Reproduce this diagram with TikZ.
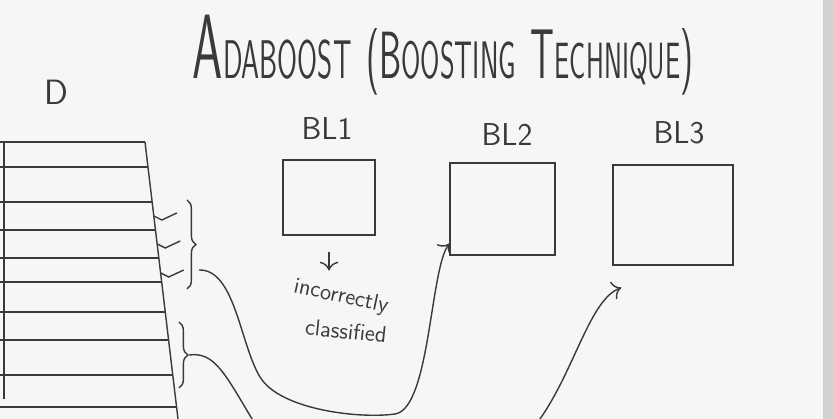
\documentclass[tikz,border=0pt]{standalone}
\usepackage{amsmath}
\usepackage{tikz}
\usetikzlibrary{decorations.pathreplacing, arrows.meta}

\definecolor{ink}{HTML}{3A3A3A}
\definecolor{board}{HTML}{F6F6F4}
\definecolor{rim}{HTML}{D2D2D0}

\begin{document}
\begin{tikzpicture}[
    thick,
    scale = 1,
    ink,
    >= {To[scale = 1.5]},
    learner/.style = {draw,
      minimum width = 2cm,
      minimum height = 1.8cm},
    hand/.style = {font = \sffamily},
    tag/.style = {font = \sffamily\fontsize{18}{18}\selectfont},
    note/.style = {font = \sffamily\fontsize{13}{13}\selectfont},
    curly/.style = {decorate,
      decoration = {brace, amplitude = 5pt}},
    ]

    \useasboundingbox (0, 0) rectangle (16.68, 8.38);
    \fill [board] (0, 0) rectangle (16.68, 8.38);
    \fill [rim] (16.46, 0) rectangle (16.68, 8.38);
    \clip (0, 0) rectangle (16.68, 8.38);

    \node at (8.86, 6.8)
    [hand, anchor = base, inner sep = 1pt, name = title]
    {\scalebox{0.53}[1]{{\fontsize{52}{52}\selectfont A}%
      {\fontsize{31}{31}\selectfont DABOOST}\hspace{16pt}%
      {\fontsize{38}{38}\selectfont (B}%
      {\fontsize{30}{30}\selectfont OOSTING}\hspace{16pt}%
      {\fontsize{40}{40}\selectfont T}%
      {\fontsize{29}{29}\selectfont ECHNIQUE}%
      {\fontsize{38}{38}\selectfont )}}};

    \node at (1.12, 6.54)
    [hand, font = \sffamily\fontsize{20}{20}\selectfont, name = D] {D};

    \foreach \y [evaluate = \y as \x using {2.9 + (5.54 - \y) * 0.12}]
    in {5.54, 5.04, 4.34, 3.78, 3.22, 2.74, 2.14, 1.58, 0.88, 0.24}
    \draw (0, \y) -- (\x, \y);
    \draw (0.08, 5.54) -- (0.08, 0.4);
    \draw (2.9, 5.54) -- (3.56, 0);

    \foreach \y in {4.06, 3.5, 2.92}
    \draw ({2.9 + (5.54 - \y) * 0.12}, \y) -- ++(0.16, -0.08) -- ++(0.3, 0.14);

    \draw [curly] (3.74, 4.38) -- (3.74, 2.6);
    \draw [curly] (3.58, 1.94) -- (3.58, 0.62);

    \coordinate (S_1) at (3.98, 2.98);
    \coordinate (S_2) at (3.78, 1.28);

    \node at (6.58, 4.43)
    [learner, minimum width = 1.84cm, minimum height = 1.5cm, name = BL_1] {};
    \node at (10.05, 4.2)
    [learner, minimum width = 2.1cm, minimum height = 1.84cm, name = BL_2] {};
    \node at (13.46, 4.08)
    [learner, minimum width = 2.4cm, minimum height = 2cm, name = BL_3] {};

    \node at (6.54, 5.8) [tag, name = L_1] {BL1};
    \node at (10.14, 5.68) [tag, name = L_2] {BL2};
    \node at (13.58, 5.72) [tag, name = L_3] {BL3};

    \node at (6.82, 2.44)
    [note, rotate = -12, name = W_1] {incorrectly};
    \node at (6.92, 1.76)
    [note, rotate = -6, name = W_2] {classified};

    \draw [->, shorten <= 0.32cm, shorten >= 0.2cm]
    (BL_1.south) -- (BL_1.south |- W_1.north);

    \draw [->] (S_1) .. controls (4.7, 3.0) and (4.8, 1.5) .. (5.2, 0.84)
    .. controls (5.6, 0.18) and (7.2, 0.0) .. (7.9, 0.1)
    .. controls (8.6, 0.2) and (8.6, 3.0) .. (BL_2.213);

    \draw [->] (S_2) .. controls (4.3, 1.35) and (4.5, 0.9) .. (5.1, -0.1)
    .. controls (6.5, -2.2) and (10.0, -2.0) .. (10.8, 0)
    .. controls (11.5, 1.0) and (11.8, 2.4)
    .. ([shift = {(0.18, -0.44)}] BL_3.south west);

  \end{tikzpicture}
\end{document}
